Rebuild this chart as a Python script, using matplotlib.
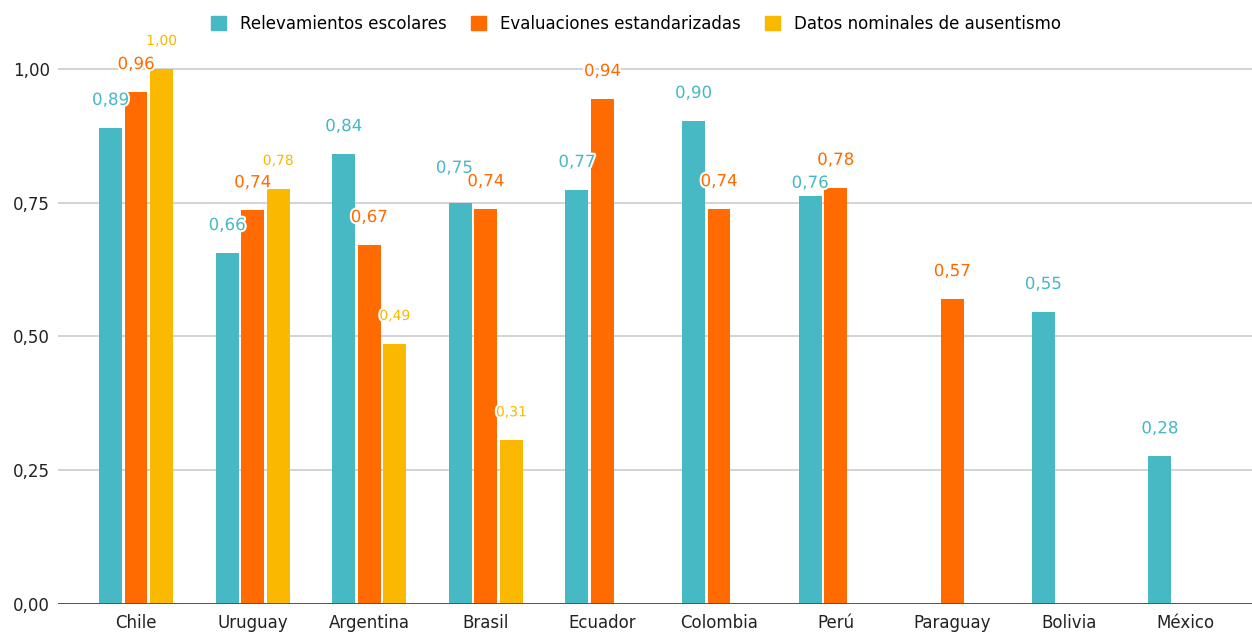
import numpy as np
import matplotlib
matplotlib.use("Agg")
import matplotlib.pyplot as plt
from matplotlib.patches import Patch
import matplotlib.patheffects as pe

plt.rcParams["font.family"] = ["DejaVu Sans"]

paises = ["Chile", "Uruguay", "Argentina", "Brasil", "Ecuador",
          "Colombia", "Perú", "Paraguay", "Bolivia", "México"]
series = ["Relevamientos escolares", "Evaluaciones estandarizadas",
          "Datos nominales de ausentismo"]
relevamientos = [0.890, 0.656, 0.841, 0.750, 0.774, 0.903, 0.763, None, 0.546, 0.276]
evaluaciones = [0.957, 0.736, 0.671, 0.738, 0.944, 0.738, 0.778, 0.570, None, None]
nominales = [1.00, 0.776, 0.486, 0.306, None, None, None, None, None, None]
yticks = [0.0, 0.25, 0.5, 0.75, 1.0]

colores = ["#47b9c4", "#ff6b00", "#fbb800"]
tam_label = [12, 12, 10]
# desplazamientos de etiquetas (px) que el original mueve para no solaparse
ajustes = {(0, 3): (-6, 35), (0, 6): (0, 13)}

fig = plt.figure(figsize=(12.52, 6.34), dpi=100)
ax = fig.add_axes([58 / 1252, 30 / 634, 1194 / 1252, 535 * 1.03 / 634])

x = np.arange(len(paises))
paso = 0.219
ancho = 0.197
for s, datos in enumerate([relevamientos, evaluaciones, nominales]):
    for i, v in enumerate(datos):
        if v is None:
            continue
        xi = x[i] + (s - 1) * paso
        ax.bar(xi, v, width=ancho, color=colores[s], zorder=3)
        dx, dy = ajustes.get((s, i), (0, 28))
        ax.annotate(f"{v:.2f}".replace(".", ","), (xi, v), xytext=(dx, dy),
                    textcoords="offset pixels", ha="center", va="center",
                    color=colores[s], fontsize=tam_label[s], zorder=5,
                    annotation_clip=False,
                    path_effects=[pe.withStroke(linewidth=3, foreground="white")])

ax.set_xlim((58 - 136) / 116.6, (1252 - 136) / 116.6)
ax.set_ylim(0, 1.03)
ax.set_yticks(yticks)
ax.set_yticklabels([f"{t:.2f}".replace(".", ",") for t in yticks], fontsize=12, color="#222222")
ax.set_xticks(x)
ax.set_xticklabels(paises, fontsize=12, color="#222222")
ax.tick_params(axis="both", length=0)
ax.tick_params(axis="y", pad=6)
ax.tick_params(axis="x", pad=7)
for sp in ["top", "right", "left", "bottom"]:
    ax.spines[sp].set_visible(False)
ax.grid(axis="y", color="#cccccc", linewidth=1.2, zorder=0)
ax.axhline(0, color="#555555", linewidth=1.4, zorder=4)

handles = [Patch(facecolor=c, edgecolor=c) for c in colores]
fig.legend(handles, series, loc="upper center", bbox_to_anchor=(0.508, 1.0), ncol=3,
           frameon=False, fontsize=12, handlelength=0.9, handleheight=0.9,
           handletextpad=0.8, columnspacing=1.5)

fig.savefig("out.png", dpi=100)
